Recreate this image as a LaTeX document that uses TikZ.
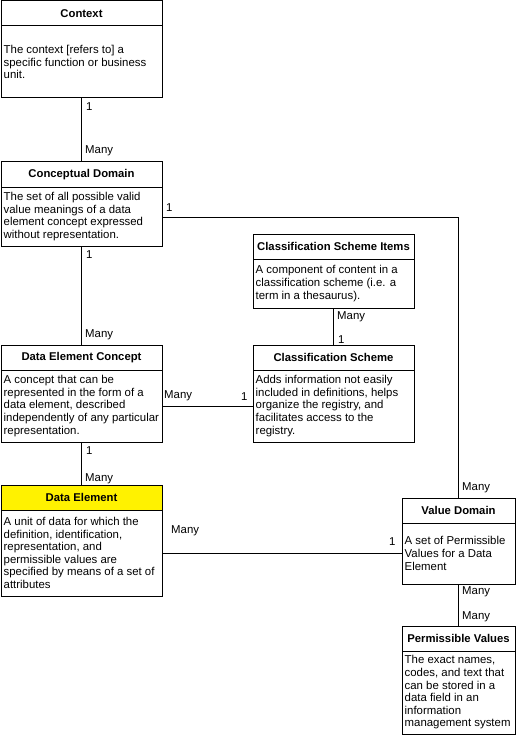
\documentclass[tikz,border=0pt]{standalone}
\usepackage{fontspec}
\setmainfont{Liberation Sans}
\usetikzlibrary{calc}
\tikzset{
  umlbox/.style={draw, line width=1pt, anchor=north west, inner sep=0pt, outer sep=0pt},
  umltitle/.style={font=\fontsize{11.3}{12.5}\selectfont\bfseries, inner sep=0pt},
  umlbody/.style={font=\fontsize{11.4}{12.6}\selectfont, align=left, anchor=west, inner sep=0pt},
  mult/.style={font=\fontsize{11.4}{12.6}\selectfont, inner sep=0pt},
  conn/.style={line width=1pt}
}
\newcommand\umlbox[8]{%
  \fill[#8] (#2,#3) rectangle ({#2+#4},{#3+25});
  \node[umlbox, minimum width=#4pt, minimum height=#5pt] (#1) at (#2,#3) {};
  \draw[line width=1pt] ([yshift=-25pt]#1.north west) -- ([yshift=-25pt]#1.north east);
  \node[umltitle] (#1-t) at ([yshift=-12.5pt]#1.north) {#6};
  \node[umlbody] (#1-b) at ({#2+2.5},{#3+12.5+#5/2}) {#7};
}
\begin{document}
\begin{tikzpicture}[x=1pt,y=-1pt]
\useasboundingbox[fill=white] (0,0) rectangle (518,738);

\umlbox{ctx}{1}{1}{161}{97}{Context}{The context [refers to] a\\specific function or business\\unit.}{white}
\umlbox{cd}{1}{162}{161}{84}{Conceptual Domain}{The set of all possible valid\\value meanings of a data\\element concept expressed\\without representation.}{white}
\umlbox{dec}{1}{345}{161}{97}{Data Element Concept}{A concept that can be\\represented in the form of a\\data element, described\\independently of any particular\\representation.}{white}
\umlbox{de}{1}{485}{161}{111}{Data Element}{A unit of data for which the\\definition, identification,\\representation, and\\permissible values are\\specified by means of a set of\\attributes}{yellow}
\umlbox{csi}{253}{234}{161}{74}{Classification Scheme Items}{A component of content in a\\classification scheme (i.e. a\\term in a thesaurus).}{white}
\umlbox{cs}{253}{345}{161}{97}{Classification Scheme}{Adds information not easily\\included in definitions, helps\\organize the registry, and\\facilitates access to the\\registry.}{white}
\umlbox{vd}{402}{498}{113}{86}{Value Domain}{A set of Permissible\\Values for a Data\\Element}{white}
\umlbox{pv}{402}{626}{113}{108}{Permissible Values}{The exact names,\\codes, and text that\\can be stored in a\\data field in an\\information\\management system}{white}

% connectors
\draw[conn] (ctx.south) -- (cd.north);
\draw[conn] (cd.south) -- (dec.north);
\draw[conn] (dec.south) -- (de.north);
\draw[conn] (csi.south) -- (cs.north);
\draw[conn] ([yshift=-61pt]dec.north east) -- ([yshift=-61pt]cs.north west);
\draw[conn] ([yshift=-55pt]cd.north east) -| (vd.north);
\draw[conn] ([yshift=-68pt]de.north east) -- ([yshift=-55pt]vd.north west);
\draw[conn] (vd.south) -- (pv.north);

% multiplicities
\node[mult, anchor=west] (m1) at (86,107) {1};
\node[mult, anchor=west] (m2) at (85,151) {Many};
\node[mult, anchor=west] (m3) at (86,255) {1};
\node[mult, anchor=west] (m4) at (85,335) {Many};
\node[mult, anchor=west] (m5) at (86,451) {1};
\node[mult, anchor=west] (m6) at (85,479) {Many};
\node[mult, anchor=west] (m7) at (166,208) {1};
\node[mult, anchor=west] (m8) at (164,396) {Many};
\node[mult, anchor=west] (m9) at (241,397) {1};
\node[mult, anchor=west] (m10) at (337,317) {Many};
\node[mult, anchor=west] (m11) at (338,340) {1};
\node[mult, anchor=west] (m12) at (171,531) {Many};
\node[mult, anchor=west] (m13) at (389,542) {1};
\node[mult, anchor=west] (m14) at (462,488) {Many};
\node[mult, anchor=west] (m15) at (462,592) {Many};
\node[mult, anchor=west] (m16) at (462,617) {Many};
\end{tikzpicture}
\end{document}
